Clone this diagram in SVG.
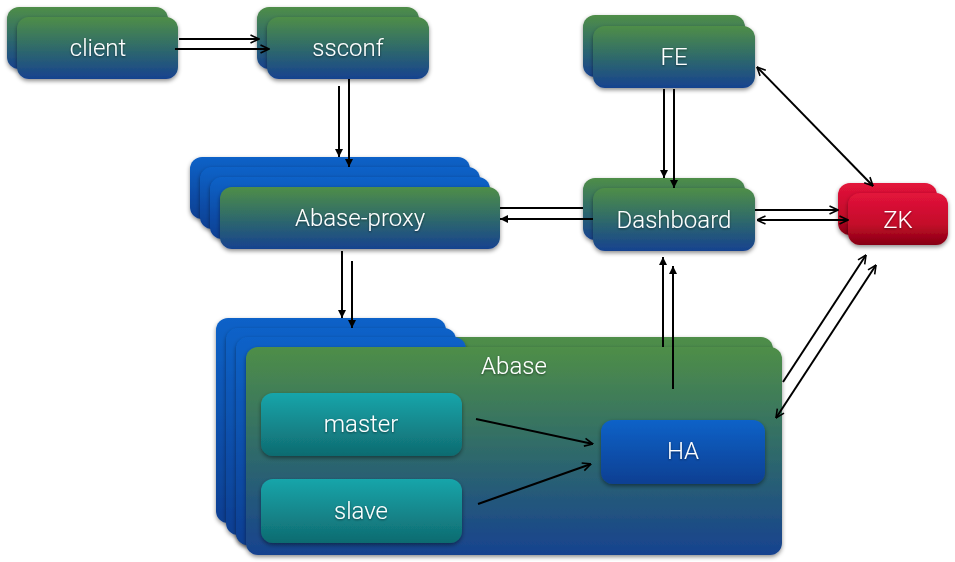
<svg xmlns="http://www.w3.org/2000/svg" width="955" height="562" viewBox="0 0 955 562">
<defs>
<linearGradient id="gGreen" x1="0" y1="0" x2="0" y2="1">
<stop offset="0" stop-color="#4f8e48"/><stop offset="0.5" stop-color="#2f6a6a"/><stop offset="1" stop-color="#17428f"/>
</linearGradient>
<linearGradient id="gBlue" x1="0" y1="0" x2="0" y2="1">
<stop offset="0" stop-color="#0c62c8"/><stop offset="1" stop-color="#0d3f92"/>
</linearGradient>
<linearGradient id="gTeal" x1="0" y1="0" x2="0" y2="1">
<stop offset="0" stop-color="#19a5aa"/><stop offset="1" stop-color="#0f6b70"/>
</linearGradient>
<linearGradient id="gRed" x1="0" y1="0" x2="0" y2="1">
<stop offset="0" stop-color="#e3133b"/><stop offset="0.6" stop-color="#c40c2a"/><stop offset="1" stop-color="#860012"/>
</linearGradient>
<filter id="sh" x="-10%" y="-10%" width="120%" height="130%">
<feDropShadow dx="0" dy="2" stdDeviation="2" flood-color="#000" flood-opacity="0.45"/>
</filter>
<filter id="tsh" x="-10%" y="-20%" width="120%" height="140%">
<feDropShadow dx="0" dy="1" stdDeviation="0.8" flood-color="#000" flood-opacity="0.5"/>
</filter>
<marker id="fa" viewBox="0 0 10 10" refX="10" refY="5" markerWidth="8" markerHeight="8" markerUnits="userSpaceOnUse" orient="auto-start-reverse">
<path d="M0,0 L10,5 L0,10 z" fill="#000"/>
</marker>
<marker id="oa" viewBox="0 0 10 10" refX="9.5" refY="5" markerWidth="10" markerHeight="10" markerUnits="userSpaceOnUse" orient="auto-start-reverse">
<path d="M1,1 L9.5,5 L1,9" fill="none" stroke="#000" stroke-width="1.6"/>
</marker>
</defs>
<style>
.card{filter:url(#sh)}
.g{fill:url(#gGreen)}
.b{fill:url(#gBlue)}
.t{fill:url(#gTeal)}
.r{fill:url(#gRed)}
.lbl{font-family:Roboto,"Liberation Sans",sans-serif;font-weight:300;font-size:24px;fill:#fff;text-anchor:middle;dominant-baseline:central;filter:url(#tsh)}
.c{stroke:#000;stroke-width:2;fill:none}
.f{marker-end:url(#fa)}
.o{marker-end:url(#oa)}
.o2{marker-start:url(#oa);marker-end:url(#oa)}
</style>

<g id="client">
<rect class="card g" x="7" y="7" width="161" height="62" rx="12"/>
<rect class="card g" x="17" y="17" width="161" height="62" rx="12"/>
<text class="lbl" x="98" y="48">client</text>
</g>
<g id="ssconf">
<rect class="card g" x="257" y="7" width="162" height="62" rx="12"/>
<rect class="card g" x="267" y="17" width="162" height="62" rx="12"/>
<text class="lbl" x="348" y="48">ssconf</text>
</g>
<g id="fe">
<rect class="card g" x="583" y="15" width="162" height="62" rx="12"/>
<rect class="card g" x="593" y="26" width="162" height="62" rx="12"/>
<text class="lbl" x="674" y="57">FE</text>
</g>
<g id="dashboard">
<rect class="card g" x="583" y="178" width="162" height="62" rx="12"/>
<rect class="card g" x="593" y="188" width="162" height="63" rx="12"/>
<text class="lbl" x="674" y="220">Dashboard</text>
</g>
<g id="zk">
<rect class="card r" x="838" y="183" width="99" height="52" rx="12"/>
<rect class="card r" x="848" y="193" width="100" height="52" rx="12"/>
<text class="lbl" x="898" y="220">ZK</text>
</g>
<g id="abase-proxy">
<rect class="card b" x="190" y="157" width="280" height="62" rx="12"/>
<rect class="card b" x="200" y="167" width="280" height="62" rx="12"/>
<rect class="card b" x="210" y="177" width="280" height="62" rx="12"/>
<rect class="card g" x="220" y="187" width="280" height="62" rx="12"/>
<text class="lbl" x="360" y="218">Abase-proxy</text>
</g>
<g id="abase">
<rect class="card g" x="236" y="337" width="537" height="208" rx="12"/>
<rect class="card b" x="216" y="318" width="230" height="205" rx="12"/>
<rect class="card b" x="226" y="328" width="230" height="207" rx="12"/>
<rect class="card b" x="236" y="337" width="230" height="208" rx="12"/>
<rect class="card g" x="246" y="347" width="536" height="208" rx="12"/>
<text class="lbl" x="514" y="366">Abase</text>
</g>
<g id="master">
<rect class="card t" x="261" y="393" width="201" height="63" rx="12"/>
<text class="lbl" x="361" y="424">master</text>
</g>
<g id="slave">
<rect class="card t" x="261" y="479" width="201" height="64" rx="12"/>
<text class="lbl" x="361" y="511">slave</text>
</g>
<g id="ha">
<rect class="card b" x="601" y="420" width="164" height="64" rx="12"/>
<text class="lbl" x="683" y="451">HA</text>
</g>

<g id="connectors">
<line class="c o" x1="179" y1="39" x2="259" y2="39"/>
<line class="c o" x1="175" y1="49" x2="269" y2="49"/>
<line class="c f" x1="339" y1="86" x2="339" y2="157"/>
<line class="c f" x1="349" y1="79" x2="349" y2="167"/>
<line class="c f" x1="342" y1="251" x2="342" y2="318"/>
<line class="c f" x1="352" y1="261" x2="352" y2="328"/>
<line class="c" x1="583" y1="208" x2="500" y2="208"/>
<line class="c f" x1="593" y1="219" x2="500" y2="219"/>
<line class="c f" x1="664" y1="89" x2="664" y2="178"/>
<line class="c f" x1="674" y1="89" x2="674" y2="188"/>
<line class="c o2" x1="757" y1="67" x2="873" y2="186"/>
<line class="c o" x1="755" y1="210" x2="838" y2="210"/>
<line class="c o2" x1="757" y1="220" x2="848" y2="220"/>
<line class="c f" x1="663" y1="347" x2="663" y2="257"/>
<line class="c f" x1="673" y1="389" x2="673" y2="266"/>
<line class="c o" x1="783" y1="382" x2="866" y2="255"/>
<line class="c o2" x1="776" y1="418" x2="876" y2="265"/>
<line class="c o" x1="476" y1="419" x2="593" y2="444"/>
<line class="c o" x1="478" y1="504" x2="591" y2="464"/>
</g>
</svg>
